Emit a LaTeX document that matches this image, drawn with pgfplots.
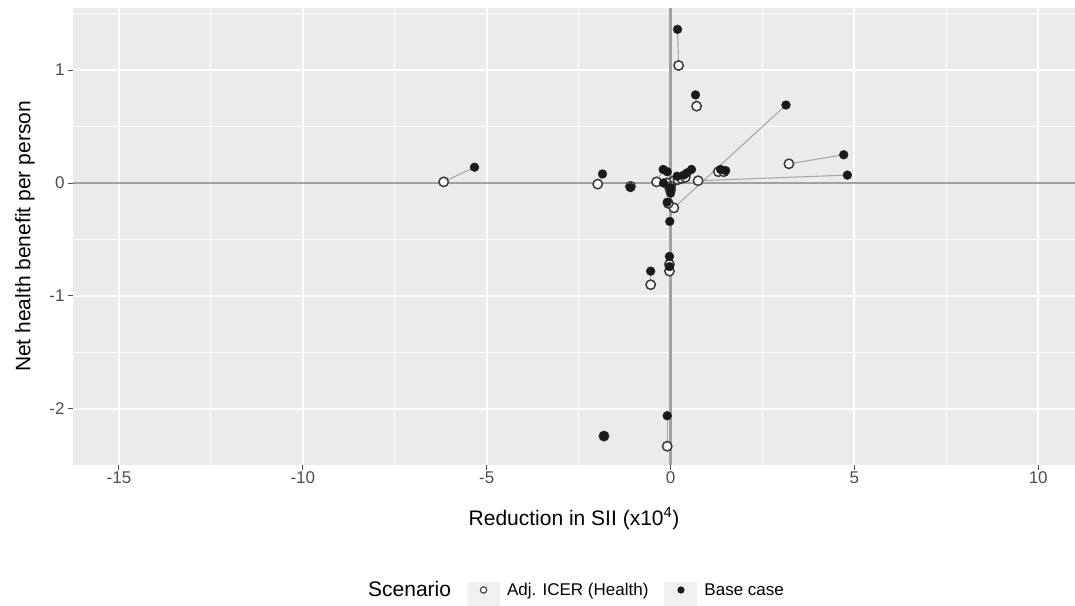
\documentclass[border=0pt]{standalone}
\usepackage{pgfplots}
\pgfplotsset{compat=1.18}
\usepackage{pgfplotstable}
\usepackage{fontspec}
\setmainfont{Liberation Sans}

\definecolor{panel}{HTML}{EBEBEB}
\definecolor{tickgrey}{HTML}{4D4D4D}
\definecolor{refline}{HTML}{A0A0A0}
\definecolor{segline}{HTML}{A8A8A8}
\definecolor{keybg}{HTML}{F0F0F0}
\definecolor{ringcol}{HTML}{3A3A3A}
\definecolor{dotcol}{HTML}{1A1A1A}

% One row per intervention: (xa,ya) = Adj. ICER (Health), (xb,yb) = Base case
\pgfplotstableread{
xa     ya     xb     yb
-6.17  0.01  -5.33   0.14
-1.98 -0.01  -1.85   0.08
-1.09 -0.03  -1.09  -0.04
-0.38  0.01  -0.20   0.12
 0.22  1.04   0.19   1.36
 0.71  0.68   0.68   0.78
 0.09 -0.22   3.14   0.69
 0.75  0.02   4.81   0.07
 3.22  0.17   4.71   0.25
 1.30  0.10   1.36   0.12
 1.45  0.10   1.50   0.11
-0.54 -0.90  -0.54  -0.78
-0.03 -0.78  -0.03  -0.65
-0.03 -0.72  -0.03  -0.74
-1.81 -2.24  -1.81  -2.24
-0.09 -2.33  -0.09  -2.06
-0.06 -0.18  -0.09  -0.17
-0.02 -0.05  -0.02  -0.34
 0.00  0.00  -0.09   0.10
 0.10  0.02   0.18   0.06
 0.20  0.03   0.36   0.07
 0.30  0.04   0.45   0.09
 0.40  0.05   0.57   0.12
-0.10  0.00  -0.19   0.00
 0.00 -0.03   0.00  -0.04
 0.00 -0.06   0.00  -0.09
}\pairs

\begin{document}
\begin{tikzpicture}
\begin{axis}[
  at={(0,0)}, anchor=south west,
  scale only axis, width=1002pt, height=457pt,
  xmin=-16.25, xmax=11.0, ymin=-2.496, ymax=1.549,
  axis background/.style={fill=panel},
  axis line style={draw=none},
  xtick={-15,-10,-5,0,5,10},
  xticklabels={-15,-10,-5,0,5,10},
  ytick={-2,-1,0,1},
  yticklabels={-2,-1,0,1},
  minor xtick={-12.5,-7.5,-2.5,2.5,7.5},
  minor ytick={-1.5,-0.5,0.5,1.5},
  grid=both,
  major grid style={white, line width=2pt},
  minor grid style={white, line width=1pt},
  tick align=outside, major tick length=5pt, minor tick length=0pt,
  tick pos=left,
  every tick/.style={tickgrey, line width=1pt},
  ticklabel style={font=\fontsize{17}{20}\selectfont, text=tickgrey},
  xticklabel style={yshift=1.5pt},
  xlabel={Reduction in SII (x10\textsuperscript{4})},
  ylabel={Net health benefit per person},
  label style={font=\fontsize{21}{25}\selectfont, text=black},
  xlabel style={at={([yshift=-60pt]axis description cs:0.5,0)}, anchor=base},
  ylabel style={at={([xshift=-48pt]axis description cs:0,0.5)}, anchor=center},
  legend columns=3,
  legend style={at={(axis description cs:0.2944,-0.2735)}, anchor=west,
    draw=none, fill=none, inner sep=0pt, column sep=0pt,
    nodes={inner sep=0pt},
    font=\fontsize{17}{20}\selectfont},
]
% reference lines through the origin
\addplot[forget plot, refline, line width=2.2pt] coordinates {(-16.25,0) (11,0)};
\addplot[forget plot, refline, line width=2.2pt] coordinates {(0,-2.496) (0,1.549)};

% segments joining the two scenarios of each intervention
\addplot[forget plot, segline, line width=1.1pt, no markers,
  quiver={u=\thisrow{xb}-\thisrow{xa}, v=\thisrow{yb}-\thisrow{ya}}]
  table[x=xa, y=ya] {\pairs};

% Adj. ICER (Health)
\addplot[forget plot, only marks, mark=*, mark size=4.7pt,
  mark options={draw=ringcol, fill=white, line width=1.5pt}]
  table[x=xa, y=ya] {\pairs};

% Base case
\addplot[forget plot, only marks, mark=*, mark size=4.4pt,
  mark options={draw=dotcol, fill=dotcol}]
  table[x=xb, y=yb] {\pairs};

% legend
\addlegendimage{empty legend}
\addlegendentry{\fontsize{21}{25}\selectfont Scenario}
\addlegendimage{legend image code/.code={
  \path[draw=none, fill=none] (-16pt,-25pt) rectangle (40pt,25pt);
  \fill[keybg, draw=none] (0pt,-25pt) rectangle (33pt,8pt);
  \draw[ringcol, line width=1.1pt, fill=white] (16.5pt,0pt) circle (3.2pt);}}
\addlegendentry{Adj. ICER (Health)}
\addlegendimage{legend image code/.code={
  \path[draw=none, fill=none] (-16pt,-25pt) rectangle (40pt,25pt);
  \fill[keybg, draw=none] (0pt,-25pt) rectangle (33pt,8pt);
  \fill[dotcol, draw=none] (16.5pt,0pt) circle (3.6pt);}}
\addlegendentry{Base case}
\end{axis}
\pgfresetboundingbox
\path (-73pt,-140pt) rectangle (1002pt,465pt);
\end{tikzpicture}
\end{document}
